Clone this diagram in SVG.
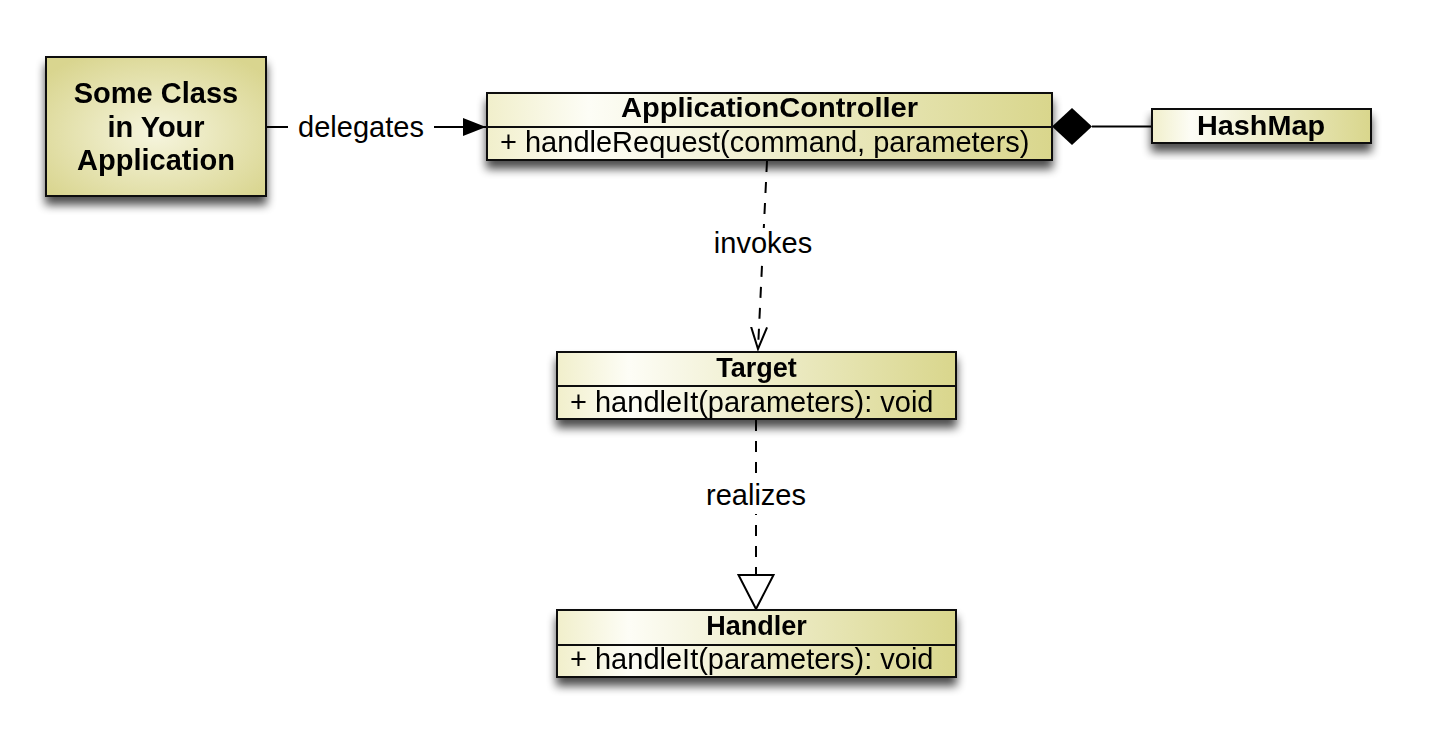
<svg xmlns="http://www.w3.org/2000/svg" width="1434" height="732" viewBox="0 0 1434 732">
  <defs>
    <linearGradient id="cls" x1="0" y1="0" x2="1" y2="0">
      <stop offset="0" stop-color="#f1efcb"/>
      <stop offset="0.18" stop-color="#fdfdf6"/>
      <stop offset="1" stop-color="#d9d68c"/>
    </linearGradient>
    <radialGradient id="rad" cx="0.5" cy="0.55" r="0.65">
      <stop offset="0" stop-color="#f6f5de"/>
      <stop offset="1" stop-color="#d9d58f"/>
    </radialGradient>
    <filter id="shadow" x="-10%" y="-20%" width="120%" height="170%">
      <feGaussianBlur in="SourceAlpha" stdDeviation="5"/>
      <feOffset dx="0" dy="8" result="b"/>
      <feComponentTransfer><feFuncA type="linear" slope="0.7"/></feComponentTransfer>
      <feMerge><feMergeNode/><feMergeNode in="SourceGraphic"/></feMerge>
    </filter>
    <marker id="filled" viewBox="0 0 23 18" refX="23" refY="9" markerWidth="23" markerHeight="18" markerUnits="userSpaceOnUse" orient="auto">
      <path d="M0,0 L23,9 L0,18 Z" fill="#000"/>
    </marker>
    <marker id="open" viewBox="0 0 24 20" refX="22" refY="10" markerWidth="24" markerHeight="20" markerUnits="userSpaceOnUse" orient="auto">
      <path d="M0,2 L22,10 L0,18" fill="none" stroke="#000" stroke-width="2"/>
    </marker>
    <marker id="tri" viewBox="0 0 36 38" refX="35" refY="19" markerWidth="36" markerHeight="38" markerUnits="userSpaceOnUse" orient="auto">
      <path d="M1,1.5 L35,19 L1,36.5 Z" fill="#fff" stroke="#000" stroke-width="2"/>
    </marker>
    <style>
      .box { stroke: #111; stroke-width: 2; }
      .cls { fill: url(#cls); }
      .div { stroke: #111; stroke-width: 2; }
      .t { font-family: "Liberation Sans", Arial, sans-serif; fill: #000; }
      .title { font-weight: bold; font-size: 27px; text-anchor: middle; }
      .big { font-weight: bold; font-size: 29px; text-anchor: middle; }
      .op { font-size: 29px; }
      .lbl { font-size: 29px; text-anchor: middle; }
      .line { stroke: #000; stroke-width: 2; fill: none; }
      .dash { stroke-dasharray: 11 10; }
    </style>
  </defs>
  <rect width="1434" height="732" fill="#fff"/>

  <g id="connectors">
    <line class="line" x1="266" y1="127" x2="438" y2="127"/>
    <line class="line" x1="438" y1="127" x2="486" y2="127" marker-end="url(#filled)"/>
    <line class="line" x1="1092" y1="126.5" x2="1152" y2="126.5"/>
    <path d="M1052,126.5 L1072,108 L1092,126.5 L1072,145 Z" fill="#000"/>
    <line class="line dash" x1="767" y1="161" x2="758" y2="349" marker-end="url(#open)"/>
    <line class="line dash" x1="756" y1="420" x2="756" y2="609" marker-end="url(#tri)"/>
    <rect x="288" y="108" width="146" height="38" fill="#fff"/>
    <text class="t lbl" x="361" y="137">delegates</text>
    <rect x="710" y="228" width="106" height="33" fill="#fff"/>
    <text class="t lbl" x="763" y="253">invokes</text>
    <rect x="702" y="481" width="108" height="33" fill="#fff"/>
    <text class="t lbl" x="756" y="505">realizes</text>
  </g>

  <g id="some-class" filter="url(#shadow)">
    <rect class="box" x="46" y="57" width="220" height="139" fill="url(#rad)"/>
    <text class="t big" x="156" y="103">Some Class</text>
    <text class="t big" x="156" y="137">in Your</text>
    <text class="t big" x="156" y="170">Application</text>
  </g>

  <g id="application-controller" filter="url(#shadow)">
    <rect class="box cls" x="487" y="93" width="565" height="67"/>
    <line class="div" x1="487" y1="127" x2="1052" y2="127"/>
    <text class="t title" x="769.5" y="117" textLength="297" lengthAdjust="spacingAndGlyphs">ApplicationController</text>
    <text class="t op" x="500" y="152">+ handleRequest(command, parameters)</text>
  </g>

  <g id="hashmap" filter="url(#shadow)">
    <rect class="box cls" x="1152" y="109" width="219" height="34"/>
    <text class="t title" x="1261" y="135" textLength="128" lengthAdjust="spacingAndGlyphs">HashMap</text>
  </g>

  <g id="target" filter="url(#shadow)">
    <rect class="box cls" x="557" y="352" width="399" height="67"/>
    <line class="div" x1="557" y1="386" x2="956" y2="386"/>
    <text class="t title" x="756.5" y="377">Target</text>
    <text class="t op" x="570" y="412">+ handleIt(parameters): void</text>
  </g>

  <g id="handler" filter="url(#shadow)">
    <rect class="box cls" x="557" y="610" width="399" height="67"/>
    <line class="div" x1="557" y1="645" x2="956" y2="645"/>
    <text class="t title" x="756.5" y="635">Handler</text>
    <text class="t op" x="570" y="669">+ handleIt(parameters): void</text>
  </g>
</svg>
